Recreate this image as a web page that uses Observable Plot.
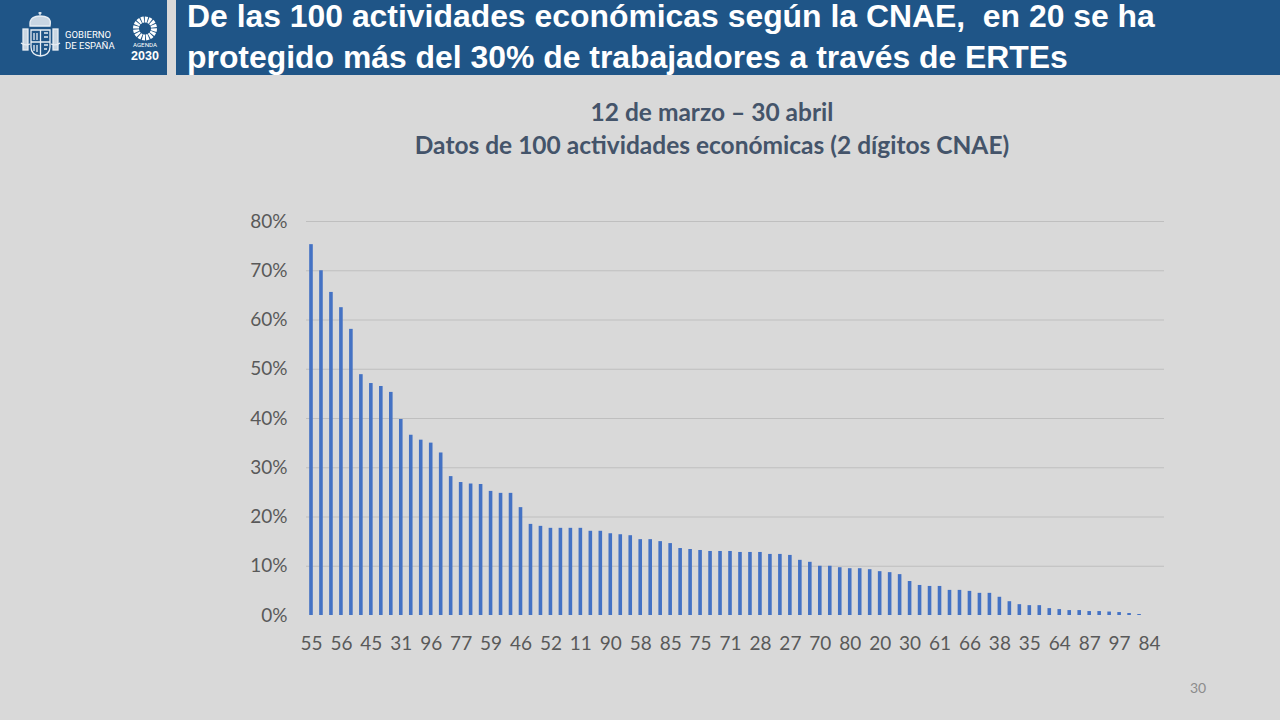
<!DOCTYPE html>
<html lang="es">
<head>
<meta charset="utf-8">
<script src="https://cdn.jsdelivr.net/npm/d3@7"></script>
<script src="https://cdn.jsdelivr.net/npm/@observablehq/plot@0.6"></script>
<style>
html,body{margin:0;padding:0;background:#D9D9D9;width:1280px;height:720px;overflow:hidden}
#page{position:relative;width:1280px;height:720px;background:#D9D9D9}
.band{position:absolute;top:0;height:75px;background:#1F5587}
#headline{left:176px;width:1104px;color:#fff;font:bold 31.9px/33px "Liberation Sans",Arial,sans-serif;white-space:pre}
#headline span{position:absolute;left:11px;height:33px}
#logo{left:0;width:167px}
#chartTitle{position:absolute;left:212px;width:1000px;top:95px;text-align:center;color:#44546A;font:bold 24.5px/33px Lato,sans-serif}
#chart{position:absolute;left:0;top:190px}
#pageNo{position:absolute;left:1190px;top:679px;color:#8C8C8C;font:14px Lato,sans-serif}
</style>
</head>
<body>
<div id="page">
  <div id="logo" class="band">
    <svg width="167" height="75" viewBox="0 0 167 75">
      <g fill="none" stroke="#E8EEF4" stroke-width="1.3">
        <path d="M30 26 C29 17 36 16 40 16 C45 16 52 17 50 26 Z" fill="#C9D6E2"/>
        <path d="M40 15 v-3 M38.5 13 h3"/>
        <rect x="23" y="29" width="5" height="21" fill="#C9D6E2"/>
        <rect x="53" y="29" width="5" height="21" fill="#C9D6E2"/>
        <path d="M31 30 h19 v17 q0 8 -9.500 9 q-9.500 -1 -9.500 -9 Z"/>
        <path d="M40.500 30 v26 M31 42 h19"/>
        <path d="M34 33 v7 M37 33 v7 M44 33 h4 M44 37 h4 M34 45 v6 M37 45 v7 M44 45 h4 M44 49 h3"/>
        <path d="M21 43 q4 3 9 1 M60 43 q-4 3 -9 1"/>
      </g>
      <g fill="#fff" font-family="Roboto,'Liberation Sans',sans-serif">
        <text x="65" y="38" font-size="9.500">GOBIERNO</text>
        <text x="65" y="49" font-size="9.500">DE ESPAÑA</text>
        <text x="145" y="46.500" font-size="6.200" text-anchor="middle">AGENDA</text>
        <text x="145" y="59.500" font-size="12.500" font-weight="bold" text-anchor="middle" font-family="'Liberation Sans',sans-serif">2030</text>
      </g>
      <circle cx="145" cy="28.500" r="9" fill="none" stroke="#fff" stroke-width="6" stroke-dasharray="2.600 0.900"/>
    </svg>
  </div>
  <div id="headline" class="band"><span style="top:0">De las 100 actividades económicas según la CNAE,  en 20 se ha</span><span style="top:41px">protegido más del 30% de trabajadores a través de ERTEs</span></div>
  <div id="chartTitle">12 de marzo – 30 abril<br>Datos de 100 actividades económicas (2 dígitos CNAE)</div>
  <div id="chart"></div>
  <div id="pageNo">30</div>
</div>
<script>
// Share of workers protected by ERTE (%), one bar per CNAE activity, sorted descending
const shares = [
  75.3,70.0,65.6,62.5,58.1,48.9,47.1,46.5,45.3,39.8,
  36.6,35.6,35.0,33.0,28.2,27.0,26.7,26.6,25.2,24.8,
  24.8,21.9,18.5,18.1,17.7,17.7,17.7,17.7,17.1,17.1,
  16.6,16.4,16.2,15.4,15.4,15.0,14.6,13.6,13.4,13.2,
  13.0,13.0,13.0,12.8,12.8,12.8,12.4,12.4,12.2,11.2,
  10.8,10.0,10.0,9.7,9.5,9.5,9.3,8.9,8.7,8.3,
  6.9,6.1,5.9,5.9,5.1,5.1,4.9,4.5,4.5,3.7,
  2.8,2.2,2.0,2.0,1.4,1.2,1.0,1.0,0.8,0.8,
  0.7,0.6,0.4,0.2,0,0
];
// CNAE codes printed on the axis: every third bar carries one
const axisCodes = ["55","56","45","31","96","77","59","46","52","11","90","58","85","75","71","28","27","70","80","20","30","61","66","38","35","64","87","97","84"];
const labelEvery = 3;
const yTicks = [0,10,20,30,40,50,60,70,80];
const gridTicks = [10,20,30,40,50,60,70,80];

const positions = shares.map((_, i) => i);
const tickPositions = axisCodes.map((_, i) => i * labelEvery);

const chart = Plot.plot({
  width: 1280,
  height: 470,
  marginLeft: 306,
  marginRight: 116,
  marginTop: 31,
  marginBottom: 45,
  style: {background: "transparent", fontFamily: "Lato, sans-serif", fontSize: "19px", color: "#595959", overflow: "visible"},
  x: {type: "band", domain: positions, paddingInner: 0.64, paddingOuter: 0.32, round: false, label: null},
  y: {domain: [0, 80], label: null},
  marks: [
    Plot.ruleY(gridTicks, {stroke: "#BFBFBF", strokeWidth: 1, strokeOpacity: 1}),
    Plot.barY(positions, {x: d => d, y: d => shares[d], fill: "#4472C4"}),
    Plot.axisY({ticks: yTicks, tickFormat: d => d + "%", tickSize: 0, tickPadding: 19, fontSize: 19, fill: "#595959", label: null}),
    Plot.axisX({ticks: tickPositions, tickFormat: d => axisCodes[d / labelEvery], tickSize: 0, tickPadding: 21, fontSize: 19, fill: "#595959", label: null})
  ]
});
document.getElementById("chart").append(chart);
</script>
</body>
</html>
